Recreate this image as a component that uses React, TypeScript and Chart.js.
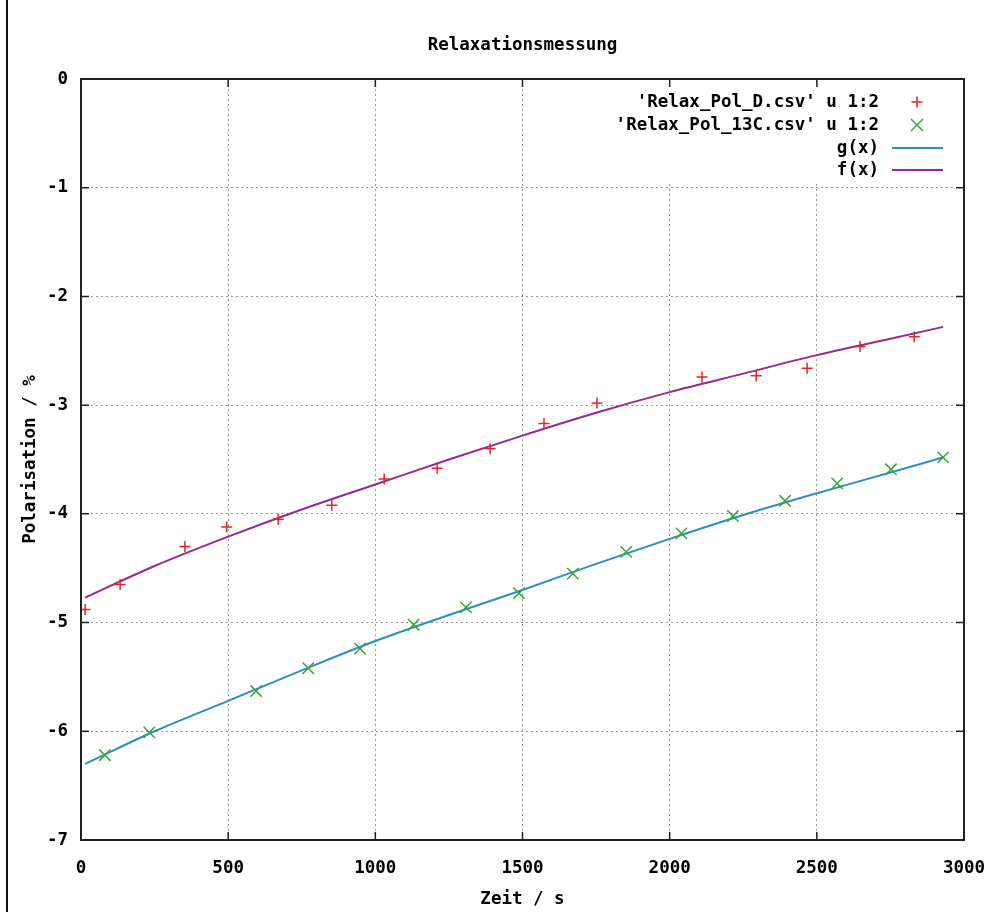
import { useEffect, useRef } from 'react';
import { Chart, registerables } from 'chart.js';

Chart.register(...registerables);

const TITLE = 'Relaxationsmessung';
const X_LABEL = 'Zeit / s';
const Y_LABEL = 'Polarisation / %';
const LEGEND_LABELS = ["'Relax_Pol_D.csv' u 1:2", "'Relax_Pol_13C.csv' u 1:2", 'g(x)', 'f(x)'];

// Deuterium measurement (red +)
const dTime = [14, 133, 353, 495, 670, 852, 1030, 1210, 1390, 1573, 1753, 2110, 2294, 2467, 2647, 2831];
const dPol = [-4.88, -4.65, -4.30, -4.12, -4.05, -3.92, -3.68, -3.58, -3.40, -3.17, -2.98, -2.74, -2.73, -2.66, -2.46, -2.37];

// 13C measurement (green x)
const cTime = [81, 232, 595, 772, 948, 1130, 1308, 1488, 1671, 1852, 2040, 2215, 2392, 2569, 2752, 2929];
const cPol = [-6.22, -6.01, -5.63, -5.42, -5.24, -5.02, -4.86, -4.73, -4.55, -4.35, -4.18, -4.02, -3.88, -3.72, -3.59, -3.48];

// Fit curves
const curveTime = [14, 250, 500, 750, 1000, 1250, 1500, 1750, 2000, 2250, 2500, 2750, 2929];
const gPol = [-6.30, -6.00, -5.72, -5.44, -5.17, -4.93, -4.70, -4.46, -4.23, -4.01, -3.81, -3.62, -3.48];
const fPol = [-4.77, -4.48, -4.21, -3.96, -3.73, -3.50, -3.28, -3.07, -2.88, -2.71, -2.54, -2.39, -2.28];

const xTicks = [0, 500, 1000, 1500, 2000, 2500, 3000];
const yTicks = [0, -1, -2, -3, -4, -5, -6, -7];

const FONT = '"DejaVu Sans Mono", monospace';
const RED = '#e0282a';
const GREEN = '#3aa53a';
const BLUE = '#2b8fbf';
const PURPLE = '#962a92';

const zip = (xs: number[], ys: number[]) => xs.map((x, i) => ({ x, y: ys[i] }));

const framePlugin = {
  id: 'gnuplotFrame',
  afterDraw(chart: any) {
    const { ctx, chartArea: a, scales } = chart;
    ctx.save();
    // page edge line at left
    ctx.strokeStyle = '#111';
    ctx.lineWidth = 2;
    ctx.beginPath();
    ctx.moveTo(7, 0);
    ctx.lineTo(7, chart.height);
    ctx.stroke();

    // legend
    ctx.font = `bold 17.5px ${FONT}`;
    ctx.textAlign = 'right';
    ctx.textBaseline = 'middle';
    const textRight = 879;
    let maxW = 0;
    LEGEND_LABELS.forEach((l) => (maxW = Math.max(maxW, ctx.measureText(l).width)));
    ctx.fillStyle = '#fff';
    ctx.fillRect(textRight - maxW - 6, a.top + 1, a.right - (textRight - maxW - 6) - 1, 104);
    const rowY = [102, 125, 148, 170];
    const sx = 917;
    LEGEND_LABELS.forEach((l, i) => {
      ctx.fillStyle = '#000';
      ctx.fillText(l, textRight, rowY[i]);
    });
    ctx.lineWidth = 1.5;
    ctx.strokeStyle = RED;
    ctx.beginPath();
    ctx.moveTo(sx - 5.5, rowY[0]);
    ctx.lineTo(sx + 5.5, rowY[0]);
    ctx.moveTo(sx, rowY[0] - 5.5);
    ctx.lineTo(sx, rowY[0] + 5.5);
    ctx.stroke();
    ctx.strokeStyle = GREEN;
    ctx.beginPath();
    ctx.moveTo(sx - 6, rowY[1] - 6);
    ctx.lineTo(sx + 6, rowY[1] + 6);
    ctx.moveTo(sx - 6, rowY[1] + 6);
    ctx.lineTo(sx + 6, rowY[1] - 6);
    ctx.stroke();
    ctx.lineWidth = 2;
    ctx.strokeStyle = BLUE;
    ctx.beginPath();
    ctx.moveTo(892, rowY[2]);
    ctx.lineTo(943, rowY[2]);
    ctx.stroke();
    ctx.strokeStyle = PURPLE;
    ctx.beginPath();
    ctx.moveTo(892, rowY[3]);
    ctx.lineTo(943, rowY[3]);
    ctx.stroke();

    // border
    ctx.strokeStyle = '#222';
    ctx.lineWidth = 2;
    ctx.strokeRect(a.left, a.top, a.right - a.left, a.bottom - a.top);

    // tick marks (mirrored)
    ctx.lineWidth = 1.5;
    ctx.beginPath();
    xTicks.forEach((v) => {
      const px = scales.x.getPixelForValue(v);
      ctx.moveTo(px, a.bottom);
      ctx.lineTo(px, a.bottom - 8);
      ctx.moveTo(px, a.top);
      ctx.lineTo(px, a.top + 8);
    });
    yTicks.forEach((v) => {
      const py = scales.y.getPixelForValue(v);
      ctx.moveTo(a.left, py);
      ctx.lineTo(a.left + 8, py);
      ctx.moveTo(a.right, py);
      ctx.lineTo(a.right - 8, py);
    });
    ctx.stroke();
    ctx.restore();
  },
};

export default function App() {
  const ref = useRef<HTMLCanvasElement>(null);
  useEffect(() => {
    if (!ref.current) return;
    const chart = new Chart(ref.current, {
      type: 'scatter',
      data: {
        datasets: [
          {
            label: LEGEND_LABELS[0],
            data: zip(dTime, dPol),
            pointStyle: 'cross',
            pointRadius: 5.5,
            pointBorderWidth: 1.5,
            borderColor: RED,
            backgroundColor: RED,
            showLine: false,
          },
          {
            label: LEGEND_LABELS[1],
            data: zip(cTime, cPol),
            pointStyle: 'crossRot',
            pointRadius: 8,
            pointBorderWidth: 1.5,
            borderColor: GREEN,
            backgroundColor: GREEN,
            showLine: false,
          },
          {
            label: LEGEND_LABELS[2],
            data: zip(curveTime, gPol),
            showLine: true,
            pointRadius: 0,
            borderColor: BLUE,
            borderWidth: 2,
            cubicInterpolationMode: 'monotone',
          },
          {
            label: LEGEND_LABELS[3],
            data: zip(curveTime, fPol),
            showLine: true,
            pointRadius: 0,
            borderColor: PURPLE,
            borderWidth: 2,
            cubicInterpolationMode: 'monotone',
          },
        ],
      },
      options: {
        responsive: false,
        animation: false,
        devicePixelRatio: 1,
        layout: { padding: { left: 0, right: 27, top: 0, bottom: 0 } },
        plugins: {
          legend: { display: false },
          tooltip: { enabled: false },
          title: {
            display: true,
            text: TITLE,
            fullSize: false,
            color: '#000',
            font: { family: FONT, size: 17.5, weight: 'bold' },
            padding: { top: 35, bottom: 23 },
          },
        },
        scales: {
          x: {
            type: 'linear',
            min: 0,
            max: 3000,
            afterFit: (s: any) => {
              s.height = 72;
              s.paddingLeft = 0;
              s.paddingRight = 0;
            },
            afterBuildTicks: (s: any) => {
              s.ticks = xTicks.map((v) => ({ value: v }));
            },
            ticks: {
              color: '#000',
              padding: 18,
              maxRotation: 0,
              callback: (v: any) => String(v),
              font: { family: FONT, size: 17.5, weight: 'bold' },
            },
            grid: { color: '#9a9a9a', lineWidth: 1, drawTicks: false },
            border: { display: false, dash: [2, 3] },
            title: {
              display: true,
              text: X_LABEL,
              color: '#000',
              font: { family: FONT, size: 17.5, weight: 'bold' },
              padding: { top: 0, bottom: 2 },
            },
          },
          y: {
            type: 'linear',
            min: -7,
            max: 0,
            afterFit: (s: any) => {
              s.width = 81;
              s.paddingTop = 0;
              s.paddingBottom = 0;
            },
            afterBuildTicks: (s: any) => {
              s.ticks = yTicks.map((v) => ({ value: v }));
            },
            ticks: {
              color: '#000',
              padding: 13,
              callback: (v: any) => String(v),
              font: { family: FONT, size: 17.5, weight: 'bold' },
            },
            grid: { color: '#9a9a9a', lineWidth: 1, drawTicks: false },
            border: { display: false, dash: [2, 3] },
            title: {
              display: true,
              text: Y_LABEL,
              color: '#000',
              font: { family: FONT, size: 17.5, weight: 'bold' },
              padding: { top: 20, bottom: 0 },
            },
          },
        },
      },
      plugins: [framePlugin],
    });
    return () => chart.destroy();
  }, []);
  return (
    <div style={{ position: 'fixed', left: 0, top: 0, width: 991, height: 912, background: '#fff' }}>
      <canvas ref={ref} width={991} height={912} style={{ width: 991, height: 912, display: 'block' }} />
    </div>
  );
}
